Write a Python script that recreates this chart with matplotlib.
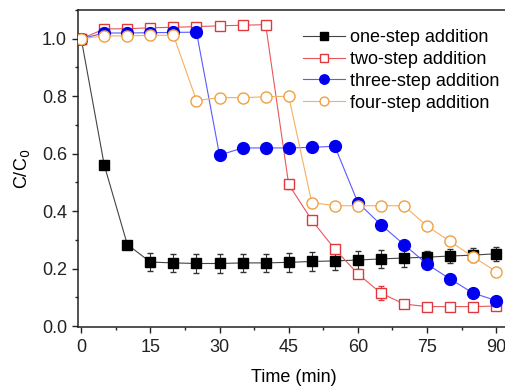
import matplotlib
matplotlib.use("Agg")
import matplotlib.pyplot as plt
from matplotlib.ticker import MultipleLocator

plt.rcParams['font.family'] = ['Liberation Sans', 'DejaVu Sans']

time = [0, 5, 10, 15, 20, 25, 30, 35, 40, 45, 50, 55, 60, 65, 70, 75, 80, 85, 90]
one_step = [1.0, 0.56, 0.284, 0.223, 0.22, 0.218, 0.218, 0.22, 0.22, 0.222, 0.225, 0.227, 0.23, 0.234, 0.237, 0.24, 0.244, 0.247, 0.252]
one_err = [0.0, 0.0, 0.012, 0.032, 0.032, 0.032, 0.032, 0.032, 0.032, 0.032, 0.032, 0.032, 0.032, 0.032, 0.032, 0.02, 0.025, 0.025, 0.025]
two_step = [1.0, 1.034, 1.035, 1.038, 1.04, 1.042, 1.045, 1.047, 1.049, 0.493, 0.369, 0.268, 0.182, 0.115, 0.077, 0.068, 0.068, 0.068, 0.07]
two_err = [0.0, 0.012, 0.012, 0.012, 0.012, 0.0, 0.0, 0.0, 0.0, 0.015, 0.015, 0.012, 0.015, 0.025, 0.01, 0.012, 0.012, 0.012, 0.012]
three_step = [1.0, 1.02, 1.02, 1.021, 1.022, 1.023, 0.595, 0.62, 0.62, 0.62, 0.622, 0.626, 0.43, 0.353, 0.284, 0.216, 0.164, 0.115, 0.089]
three_err = [0.0, 0.01, 0.01, 0.01, 0.01, 0.0, 0.0, 0.0, 0.0, 0.0, 0.0, 0.0, 0.0, 0.0, 0.0, 0.0, 0.0, 0.0, 0.0]
four_step = [1.0, 1.01, 1.01, 1.012, 1.012, 0.785, 0.795, 0.795, 0.798, 0.80, 0.43, 0.419, 0.419, 0.419, 0.419, 0.348, 0.295, 0.241, 0.19]
four_err = [0.0, 0.01, 0.01, 0.01, 0.012, 0.01, 0.01, 0.01, 0.01, 0.01, 0.0, 0.01, 0.01, 0.01, 0.01, 0.012, 0.0, 0.0, 0.0]
labels = ['one-step addition', 'two-step addition', 'three-step addition', 'four-step addition']

fig = plt.figure(figsize=(5.05, 3.87), dpi=100)
ax = fig.add_axes([78/505, 60/387, 432/505, 317/387])

c1 = ax.errorbar(time, one_step, yerr=one_err, color='#444444', lw=0.8, marker='s', ms=7.5,
                 mfc='black', mec='black', ecolor='#333333', elinewidth=0.8, capsize=2.5, zorder=3)
c2 = ax.errorbar(time, two_step, yerr=two_err, color='#e8585a', lw=0.8, marker='s', ms=7,
                 mfc='white', mec='#e0393d', mew=1.0, ecolor='#e0393d', elinewidth=0.7, capsize=2.5, zorder=4)
c3 = ax.errorbar(time, three_step, yerr=three_err, color='#5a5aff', lw=0.8, marker='o', ms=8.5,
                 mfc='#0000ee', mec='#0000ee', ecolor='#0000ee', elinewidth=0.7, capsize=2.5, zorder=5)
c4 = ax.errorbar(time, four_step, yerr=four_err, color='#f5b060', lw=0.8, marker='o', ms=8,
                 mfc='white', mec='#f0a040', mew=1.0, ecolor='#f0a040', elinewidth=0.7, capsize=2.5, zorder=6)

ax.set_xlim(-0.7, 93)
ax.set_ylim(-0.003, 1.1)
ax.xaxis.set_major_locator(MultipleLocator(15))
ax.xaxis.set_minor_locator(MultipleLocator(7.5))
ax.yaxis.set_major_locator(MultipleLocator(0.2))
ax.yaxis.set_minor_locator(MultipleLocator(0.1))
ax.yaxis.set_major_formatter(plt.FuncFormatter(lambda v, p: f'{v:.1f}'))
ax.tick_params(which='major', direction='out', length=4, width=1, labelsize=13, colors='#222222', pad=4)
ax.tick_params(axis='x', which='major', pad=5)
ax.tick_params(which='minor', direction='out', length=2.5, width=1, colors='#222222')
for s in ax.spines.values():
    s.set_linewidth(1.1)
    s.set_color('#222222')

ax.set_xlabel('Time (min)', fontsize=13, labelpad=9)
ax.set_ylabel('C/C$_0$', fontsize=13, labelpad=7)

handles = [c1.lines[0], c2.lines[0], c3.lines[0], c4.lines[0]]
leg = ax.legend(handles, labels, loc='upper left', bbox_to_anchor=(0.521, 0.94), frameon=False, fontsize=13,
                handlelength=2.3, handletextpad=0.3, labelspacing=0.27, borderaxespad=0, borderpad=0,
                markerscale=0.8)
fig.savefig('out.png', dpi=100)
